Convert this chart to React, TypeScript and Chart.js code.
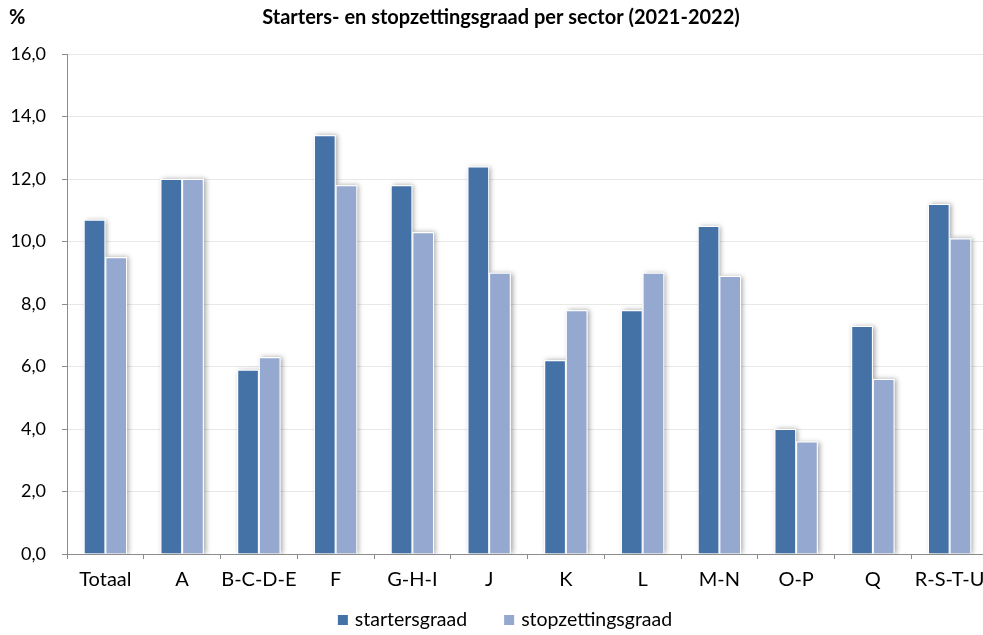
import { useEffect, useRef } from 'react';
import { Chart, registerables } from 'chart.js';

Chart.register(...registerables);

const titleText = 'Starters- en stopzettingsgraad per sector (2021-2022)';
const unitText = '%';
const categories = ['Totaal', 'A', 'B-C-D-E', 'F', 'G-H-I', 'J', 'K', 'L', 'M-N', 'O-P', 'Q', 'R-S-T-U'];
const startersgraad = [10.7, 12.0, 5.9, 13.4, 11.8, 12.4, 6.2, 7.8, 10.5, 4.0, 7.3, 11.2];
const stopzettingsgraad = [9.5, 12.0, 6.3, 11.8, 10.3, 9.0, 7.8, 9.0, 8.9, 3.6, 5.6, 10.1];
const seriesNames = ['startersgraad', 'stopzettingsgraad'];
const seriesColors = ['#4472A7', '#95A9D0'];
const yMin = 0;
const yMax = 16;
const yStep = 2;

const FONT = 'Lato, "Open Sans", sans-serif';
const W = 1000;
const H = 635;

const shadowPlugin = {
  id: 'barShadow',
  beforeDatasetsDraw(chart: any) {
    const ctx = chart.ctx;
    const a = chart.chartArea;
    ctx.save();
    ctx.beginPath();
    ctx.rect(a.left, a.top - 10, a.right - a.left + 10, a.bottom - a.top + 10);
    ctx.clip();
    ctx.shadowColor = 'rgba(0,0,0,0.35)';
    ctx.shadowBlur = 5;
    ctx.shadowOffsetX = 2;
    ctx.shadowOffsetY = 0;
    ctx.fillStyle = '#ffffff';
    chart.data.datasets.forEach((_: any, i: number) => {
      const meta = chart.getDatasetMeta(i);
      meta.data.forEach((bar: any) => {
        const { x, y, base, width } = bar.getProps(['x', 'y', 'base', 'width'], true);
        ctx.fillRect(x - width / 2, y, width, base - y);
      });
    });
    ctx.restore();
  },
};

const textPlugin = {
  id: 'titleLegend',
  afterDraw(chart: any) {
    const ctx = chart.ctx;
    ctx.save();
    ctx.fillStyle = '#000';
    ctx.font = `bold 20px ${FONT}`;
    ctx.textBaseline = 'middle';
    ctx.textAlign = 'center';
    ctx.fillText(titleText, 501, 18);
    ctx.textAlign = 'left';
    ctx.fillText(unitText, 9, 18);

    // legend
    ctx.font = `19.5px ${FONT}`;
    const box = 10;
    const gapText = 7;
    const gapItem = 37;
    const widths = chart.data.datasets.map((d: any) => box + gapText + ctx.measureText(d.label).width);
    const total = widths.reduce((s: number, w: number) => s + w, 0) + gapItem * (widths.length - 1);
    let x = 505 - total / 2;
    const y = 620;
    chart.data.datasets.forEach((d: any, i: number) => {
      ctx.fillStyle = d.backgroundColor;
      ctx.fillRect(x, y - box / 2, box, box);
      ctx.fillStyle = '#000';
      ctx.fillText(d.label, x + box + gapText, y);
      x += widths[i] + gapItem;
    });
    ctx.restore();
  },
};

export default function App() {
  const ref = useRef<HTMLCanvasElement | null>(null);

  useEffect(() => {
    if (!ref.current) return;
    const chart = new Chart(ref.current, {
      type: 'bar',
      data: {
        labels: categories,
        datasets: [
          {
            label: seriesNames[0],
            data: startersgraad,
            backgroundColor: seriesColors[0],
            borderColor: '#ffffff',
            borderWidth: 1,
            categoryPercentage: 0.564,
            barPercentage: 1,
          },
          {
            label: seriesNames[1],
            data: stopzettingsgraad,
            backgroundColor: seriesColors[1],
            borderColor: '#ffffff',
            borderWidth: 1,
            categoryPercentage: 0.564,
            barPercentage: 1,
          },
        ],
      },
      options: {
        responsive: false,
        animation: false,
        layout: { padding: { top: 54, right: 12, left: 0, bottom: 0 } },
        plugins: {
          title: { display: false },
          tooltip: { enabled: false },
          legend: { display: false },
        },
        scales: {
          x: {
            afterFit: (s: any) => {
              s.height = H - 554;
            },
            grid: {
              drawOnChartArea: false,
              drawTicks: true,
              tickLength: 5,
              color: '#8c8c8c',
              offset: true,
            },
            border: { color: '#8c8c8c', width: 1 },
            ticks: {
              font: { family: FONT, size: 20 },
              color: '#000',
              padding: 9,
              maxRotation: 0,
              autoSkip: false,
            },
          },
          y: {
            min: yMin,
            max: yMax,
            afterFit: (s: any) => {
              s.width = 67;
            },
            grid: {
              color: '#e8e8e8',
              tickColor: '#8c8c8c',
              tickLength: 5,
              drawTicks: true,
            },
            border: { color: '#8c8c8c', width: 1 },
            ticks: {
              stepSize: yStep,
              font: { family: FONT, size: 18 },
              color: '#000',
              padding: 16,
              callback: (v: any) => Number(v).toFixed(1).replace('.', ','),
            },
          },
        },
      },
      plugins: [shadowPlugin, textPlugin],
    });
    return () => chart.destroy();
  }, []);

  return (
    <div style={{ position: 'absolute', left: 0, top: 0, width: 983, height: 635, overflow: 'hidden', background: '#fff' }}>
      <canvas ref={ref} width={W} height={H} style={{ width: W, height: H, display: 'block' }} />
    </div>
  );
}
